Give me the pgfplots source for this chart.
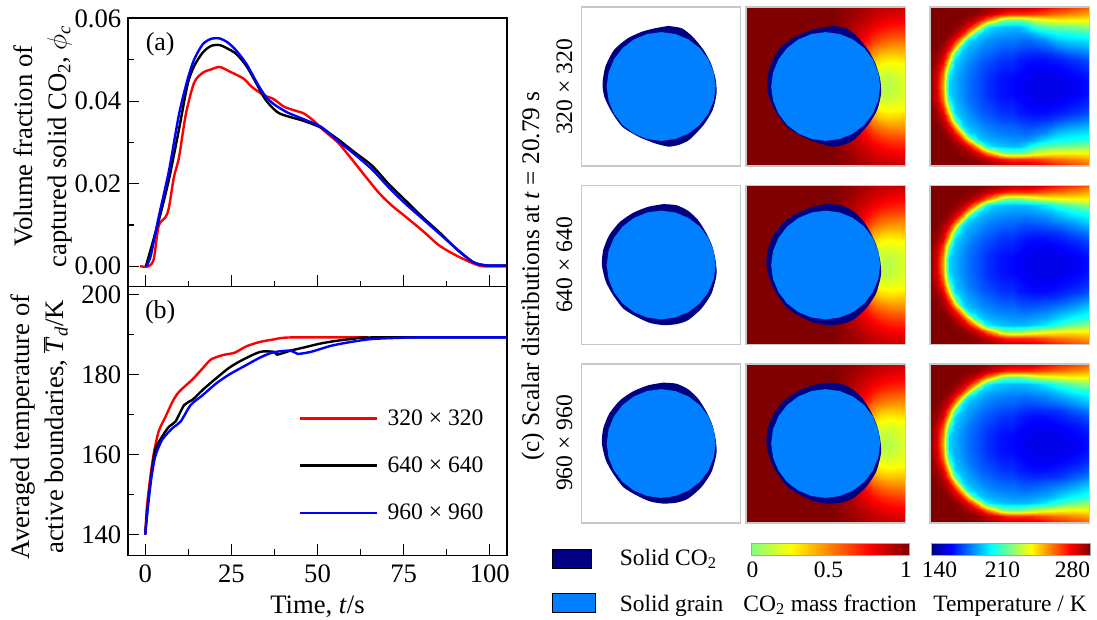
\documentclass[border=0pt]{standalone}
\usepackage{fontspec}
\usepackage{pgfplots}
\usepackage{pgfplotstable}
\pgfplotsset{compat=1.18}
\setmainfont{Liberation Serif}
\definecolor{solidco}{RGB}{0,0,130}
\definecolor{grainblue}{RGB}{0,128,255}
\definecolor{framegray}{RGB}{200,200,200}
\pgfplotsset{
 colormap={co2map}{rgb255(0cm)=(128,255,128); rgb255(2cm)=(255,255,0); rgb255(4cm)=(255,128,0); rgb255(6cm)=(255,0,0); rgb255(8cm)=(128,0,0)},
 colormap={tmap}{rgb255(0cm)=(0,0,128); rgb255(1cm)=(0,0,255); rgb255(3cm)=(0,255,255); rgb255(5cm)=(255,255,0); rgb255(7cm)=(255,0,0); rgb255(8cm)=(128,0,0)},
 lineplot/.style={scale only axis,width=284.25pt,xmin=-5,xmax=105,
   tick align=inside,xtick pos=bottom,ytick pos=left,minor tick num=1,
   axis line style={line width=1pt},every tick/.style={black,line width=0.8pt},
   major tick length=8.5pt,minor tick length=4.5pt,
   xtick={0,25,50,75,100},
   /pgf/number format/assume math mode=true,
   tick label style={font=\fontsize{20}{24}\selectfont},
   xticklabel style={yshift=-3.75pt},
   label style={font=\fontsize{20}{25.5}\selectfont}},
 curve/.style={#1,line width=1.8pt,smooth,tension=0.45},
 panelaxis/.style={scale only axis,width=119.5pt,height=119.25pt,xmin=0,xmax=1,ymin=0,ymax=1,
   ticks=none,axis line style={draw=framegray,line width=0.8pt},axis on top},
 field/.style={surf,shader=interp,mesh/cols=#1,point meta=\thisrow{z}},
}
% Volume fraction of captured solid CO2
\pgfplotstableread{
t v
-1.5 0
1.0 0
2.5 .0018
3.9 .0098
5.9 .0119
6.9 .0143
8.3 .0215
9.8 .0264
11.8 .0369
14.2 .0445
16.7 .0469
19.1 .0477
21.6 .0483
24.5 .0472
28.5 .0455
30.9 .0435
34.3 .0415
37.3 .0405
40.2 .0387
43.2 .0378
46.1 .0370
49.1 .0351
52.0 .0328
55.9 .0300
59.9 .0260
63.8 .0219
67.7 .0179
71.6 .0147
75.6 .0120
80.5 .0086
85.4 .0050
90.3 .0026
95.2 .0007
98.1 0
104.8 0
}\phired
\pgfplotstableread{
t v
0.2 0
3.9 .0110
6.9 .0211
9.8 .0332
12.3 .0441
14.2 .0485
16.7 .0518
19.1 .0534
21.6 .0536
24.0 .0527
26.5 .0514
29.4 .0485
32.4 .0441
34.8 .0405
37.3 .0381
39.3 .0369
43.2 .0359
46.1 .0352
51.0 .0336
55.9 .0308
60.8 .0276
65.8 .0244
70.7 .0199
75.6 .0159
80.5 .0119
85.4 .0082
90.3 .0042
95.2 .0010
99.1 .0002
104.8 .0002
}\phiblack
\pgfplotstableread{
t v
0.2 0
1.5 .0022
3.9 .0119
6.9 .0232
9.8 .0368
12.3 .0453
14.2 .0501
16.7 .0538
19.1 .0551
21.6 .0552
24.0 .0542
26.5 .0522
29.4 .0490
32.4 .0445
34.8 .0413
37.3 .0393
41.2 .0373
46.1 .0356
51.0 .0338
55.9 .0304
60.8 .0271
65.8 .0235
70.7 .0191
75.6 .0151
80.5 .0115
85.4 .0079
90.3 .0043
95.2 .0010
99.1 .0002
104.8 .0002
}\phiblue
% Averaged temperature
\pgfplotstableread{
t T
0 140
0.5 147
1.5 154.5
2.5 160.4
3.9 165.8
5.9 169.5
7.9 173.2
9.8 175.7
13.7 178.8
16.7 181.6
19.1 183.8
22.6 184.9
26.0 185.5
29.4 187.1
33.4 188.2
37.3 188.8
42.2 189.3
64.8 189.3
}\Tred
\pgfplotstableread{
t T
0 140
0.7 147
1.7 154.5
2.9 161.2
4.9 164.5
6.9 167
8.8 168.3
11.3 172.4
13.7 173.7
16.7 176.2
20.6 179.1
24.5 181.8
28.5 183.8
33.4 185.7
37.3 185.7
38.3 185
42.2 186
46.1 186.8
51.0 187.8
55.9 188.5
60.8 189
65.8 189.3
104.8 189.3
}\Tblack
\pgfplotstableread{
t T
0 140
0.7 146.2
1.7 153.7
2.9 159.5
4.9 163.7
7.9 166.6
10.3 168.3
13.2 172.4
16.7 174.9
20.6 177.8
24.5 180.1
28.5 182
33.4 184.3
37.3 185.6
42.2 186
44.2 185.2
48.1 185.7
53.9 187.2
59.9 188.2
65.8 188.9
73.6 189.2
78.5 189.3
104.8 189.3
}\Tblue
% Outlines in panel fractions
\pgfplotstableread{
x y
.842 .5
.830 .589
.796 .671
.742 .742
.671 .796
.589 .830
.5 .842
.411 .830
.329 .796
.258 .742
.204 .671
.170 .589
.158 .5
.170 .411
.204 .329
.258 .258
.329 .204
.411 .170
.5 .158
.589 .170
.671 .204
.742 .258
.796 .329
.830 .411
.842 .5
}\grain
\pgfplotstableread{
x y
.544 .881
.630 .866
.698 .813
.766 .730
.812 .646
.841 .551
.848 .457
.823 .352
.766 .258
.676 .164
.608 .132
.544 .122
.460 .143
.358 .184
.256 .247
.188 .342
.143 .436
.132 .520
.150 .625
.204 .730
.290 .803
.381 .845
.460 .866
.544 .881
}\crustA
\pgfplotstableread{
x y
.513 .883
.596 .876
.669 .841
.732 .782
.785 .698
.822 .614
.843 .520
.847 .436
.816 .321
.753 .226
.669 .153
.596 .128
.513 .122
.429 .136
.345 .174
.262 .226
.199 .310
.153 .394
.128 .499
.136 .593
.174 .688
.241 .771
.324 .828
.418 .866
.513 .883
}\crustB
% CO2 mass fraction: 21 columns, 11 rows, upper half, top row first
\pgfplotstableread[row sep=crcr]{
z\\
1\\1\\1\\1\\1\\1\\1\\1\\1\\1\\1\\1\\.98\\.96\\.94\\.92\\.90\\.88\\.87\\.86\\.85\\
1\\1\\1\\1\\1\\1\\1\\1\\1\\1\\1\\1\\.97\\.95\\.92\\.89\\.86\\.84\\.82\\.81\\.80\\
1\\1\\1\\1\\1\\1\\1\\1\\1\\1\\1\\1\\.96\\.93\\.89\\.85\\.81\\.78\\.75\\.74\\.74\\
1\\1\\1\\1\\1\\1\\1\\1\\1\\1\\1\\.98\\.95\\.90\\.85\\.80\\.74\\.70\\.67\\.66\\.65\\
1\\1\\1\\1\\1\\1\\1\\1\\1\\1\\1\\.98\\.95\\.90\\.82\\.74\\.66\\.60\\.57\\.56\\.55\\
1\\1\\1\\1\\1\\1\\1\\1\\1\\1\\1\\.98\\.95\\.90\\.80\\.66\\.55\\.50\\.46\\.45\\.45\\
1\\1\\1\\1\\1\\1\\1\\1\\1\\1\\1\\.98\\.95\\.90\\.75\\.58\\.44\\.36\\.34\\.35\\.36\\
1\\1\\1\\1\\1\\1\\1\\1\\1\\1\\1\\.98\\.95\\.90\\.70\\.50\\.35\\.26\\.24\\.25\\.26\\
1\\1\\1\\1\\1\\1\\1\\1\\1\\1\\1\\.98\\.95\\.85\\.65\\.45\\.25\\.18\\.17\\.19\\.21\\
1\\1\\1\\1\\1\\1\\1\\1\\1\\1\\1\\.98\\.95\\.85\\.60\\.35\\.20\\.13\\.12\\.16\\.19\\
1\\1\\1\\1\\1\\1\\1\\1\\1\\1\\1\\.98\\.95\\.85\\.60\\.30\\.18\\.12\\.10\\.14\\.18\\
}\cotab
% Temperature, K: 26 columns, 13 rows, upper half, top row first
\pgfplotstableread[row sep=crcr]{
z\\
280\\280\\280\\280\\280\\280\\280\\280\\279\\278\\276\\275\\274\\272\\272\\272\\270\\268\\265\\262\\260\\258\\256\\254\\252\\250\\
280\\280\\280\\280\\280\\280\\279\\278\\275\\271\\267\\262\\258\\256\\256\\256\\255\\253\\251\\249\\247\\246\\244\\243\\241\\240\\
280\\280\\280\\280\\280\\278\\275\\270\\260\\246\\232\\217\\209\\207\\208\\212\\218\\222\\225\\227\\228\\228\\228\\228\\228\\228\\
280\\280\\280\\280\\278\\273\\264\\245\\219\\193\\187\\185\\184\\183\\183\\188\\195\\200\\204\\205\\206\\207\\208\\209\\210\\212\\
280\\280\\280\\278\\272\\260\\235\\199\\186\\183\\181\\180\\179\\178\\178\\178\\180\\184\\188\\191\\193\\194\\195\\196\\197\\198\\
280\\280\\279\\273\\261\\231\\190\\184\\181\\178\\176\\175\\174\\174\\173\\172\\173\\175\\177\\181\\184\\186\\187\\188\\189\\190\\
280\\280\\275\\265\\237\\191\\183\\180\\177\\175\\173\\172\\171\\171\\169\\168\\168\\169\\170\\172\\175\\177\\179\\180\\181\\183\\
280\\278\\272\\250\\205\\185\\180\\177\\174\\172\\170\\168\\167\\167\\165\\164\\163\\163\\164\\165\\167\\169\\171\\172\\174\\175\\
280\\276\\266\\231\\188\\182\\178\\174\\171\\169\\167\\165\\164\\164\\161\\160\\159\\159\\159\\160\\161\\162\\164\\165\\167\\169\\
280\\273\\256\\210\\184\\180\\175\\172\\169\\167\\165\\163\\162\\162\\160\\158\\157\\157\\157\\157\\158\\159\\160\\161\\163\\165\\
279\\271\\248\\195\\183\\178\\174\\171\\168\\165\\163\\161\\160\\160\\158\\157\\156\\155\\155\\155\\156\\157\\158\\159\\160\\162\\
278\\270\\243\\188\\182\\177\\173\\170\\167\\164\\162\\160\\159\\158\\157\\156\\155\\154\\154\\154\\155\\155\\156\\157\\158\\160\\
278\\269\\240\\187\\182\\177\\173\\170\\167\\164\\162\\160\\159\\158\\157\\155\\154\\154\\154\\154\\154\\155\\155\\156\\158\\160\\
}\tempA
\pgfplotstableread[row sep=crcr]{
z\\
280\\280\\280\\280\\280\\280\\280\\280\\279\\278\\276\\275\\274\\272\\272\\272\\270\\268\\265\\262\\260\\258\\256\\254\\252\\250\\
280\\280\\280\\280\\280\\280\\279\\278\\275\\271\\267\\262\\258\\256\\256\\256\\255\\253\\251\\249\\247\\246\\244\\243\\241\\240\\
280\\280\\280\\280\\280\\278\\275\\270\\260\\246\\232\\217\\209\\207\\208\\212\\216\\220\\222\\224\\226\\227\\228\\228\\228\\228\\
280\\280\\280\\280\\278\\273\\264\\245\\219\\193\\187\\185\\184\\183\\183\\183\\185\\187\\190\\194\\198\\202\\205\\208\\210\\212\\
280\\280\\280\\278\\272\\260\\235\\199\\186\\183\\181\\180\\179\\178\\178\\178\\179\\180\\181\\183\\186\\189\\192\\194\\196\\198\\
280\\280\\279\\273\\261\\231\\190\\184\\181\\178\\176\\175\\174\\174\\173\\172\\173\\174\\175\\177\\179\\181\\183\\185\\188\\190\\
280\\280\\275\\265\\237\\191\\183\\180\\177\\175\\173\\172\\171\\171\\169\\168\\168\\169\\170\\171\\172\\174\\176\\178\\181\\183\\
280\\278\\272\\250\\205\\185\\180\\177\\174\\172\\170\\168\\167\\167\\165\\164\\163\\163\\164\\164\\165\\167\\169\\171\\173\\175\\
280\\276\\266\\231\\188\\182\\178\\174\\171\\169\\167\\165\\164\\164\\161\\160\\159\\159\\159\\160\\161\\162\\164\\165\\167\\169\\
280\\273\\256\\210\\184\\180\\175\\172\\169\\167\\165\\163\\162\\162\\160\\158\\157\\157\\157\\157\\158\\159\\160\\161\\163\\165\\
279\\271\\248\\195\\183\\178\\174\\171\\168\\165\\163\\161\\160\\160\\158\\157\\156\\155\\155\\155\\156\\157\\158\\159\\160\\162\\
278\\270\\243\\188\\182\\177\\173\\170\\167\\164\\162\\160\\159\\158\\157\\156\\155\\154\\154\\154\\155\\155\\156\\157\\158\\160\\
278\\269\\240\\187\\182\\177\\173\\170\\167\\164\\162\\160\\159\\158\\157\\155\\154\\154\\154\\154\\154\\155\\155\\156\\158\\160\\
}\tempB
\newcommand{\solidpanel}[2]{% y, crust
 \begin{axis}[panelaxis,at={(581.5*0.75pt,-#1*0.75pt)},anchor=north west]
 \addplot[fill=solidco,draw=none,smooth,tension=0.4] table {#2};
 \addplot[fill=grainblue,draw=none] table {\grain};
 \end{axis}}
\newcommand{\copanel}[2]{%
 \begin{axis}[panelaxis,at={(746*0.75pt,-#1*0.75pt)},anchor=north west,colormap name=co2map,point meta min=0,point meta max=1]
 \addplot[field=21] table[x index=0,y index=0,x expr={mod(\coordindex,21)/20},y expr={.5+(10-floor(\coordindex/21))/20}] {\cotab};
 \addplot[field=21] table[x index=0,y index=0,x expr={mod(\coordindex,21)/20},y expr={.5-(10-floor(\coordindex/21))/20}] {\cotab};
 \addplot[fill=solidco,draw=none,smooth,tension=0.4] table {#2};
 \addplot[fill=grainblue,draw=none] table {\grain};
 \end{axis}}
\newcommand{\tpanel}[2]{%
 \begin{axis}[panelaxis,at={(930*0.75pt,-#1*0.75pt)},anchor=north west,colormap name=tmap,point meta min=140,point meta max=280]
 \addplot[field=26] table[x index=0,y index=0,x expr={mod(\coordindex,26)/25},y expr={.5+(12-floor(\coordindex/26))/24}] {#2};
 \addplot[field=26] table[x index=0,y index=0,x expr={mod(\coordindex,26)/25},y expr={.5-(12-floor(\coordindex/26))/24}] {#2};
 \end{axis}}
\begin{document}
\begin{tikzpicture}[x=0.75pt,y=-0.75pt]
\path[use as bounding box] (0,0) rectangle (1097,619);
% (a)
\begin{axis}[lineplot,at={(128*0.75pt,-286.5*0.75pt)},anchor=south west,height=201.5pt,
  ymin=-.0049,ymax=.0602,ytick={0,.02,.04,.06},xticklabels={},scaled y ticks=false,
  yticklabel style={xshift=-1.5pt,/pgf/number format/fixed,/pgf/number format/fixed zerofill,/pgf/number format/precision=2},
  ylabel={Volume fraction of\\captured solid CO\textsubscript{2}, $\phi$\textsubscript{\textit{c}}},
  ylabel style={at={(axis description cs:-0.225,0.522)},anchor=center,align=center,rotate=0}]
\addplot[curve=red] table[x=t,y=v] {\phired};
\addplot[curve=black] table[x=t,y=v] {\phiblack};
\addplot[curve=blue] table[x=t,y=v] {\phiblue};
\node[font=\fontsize{19.5}{24}\selectfont,anchor=center] at (axis description cs:0.085,0.9) {(a)};
\end{axis}
% (b)
\begin{axis}[lineplot,at={(128*0.75pt,-555.3*0.75pt)},anchor=south west,height=201.5pt,
  ymin=134.83,ymax=202,ytick={140,160,180,200},
  yticklabel style={xshift=-1.5pt},
  xlabel={Time, \textit{t}/s},
  xlabel style={at={(axis description cs:0.5,-0.192)},anchor=center},
  ylabel={Averaged temperature of\\active boundaries, $\overline{\mbox{\textit{T}}}$\textsubscript{\textit{d}}/K},
  ylabel style={at={(axis description cs:-0.234,0.478)},anchor=center,align=center},
  legend cell align=left,
  legend style={at={(0.45,0.553)},anchor=north west,draw=none,fill=none,inner sep=0pt,
    row sep=18.1pt,font=\fontsize{17.7}{20}\selectfont}]
\addplot[curve=red,forget plot] table[x=t,y=T] {\Tred};
\addplot[curve=black,forget plot] table[x=t,y=T] {\Tblack};
\addplot[curve=blue,forget plot] table[x=t,y=T] {\Tblue};
\addlegendimage{legend image code/.code={\draw[red,line width=1.8pt] (0pt,0pt) -- (57.5pt,0pt); \path (63.5pt,0pt);}}
\addlegendentry{320 × 320}
\addlegendimage{legend image code/.code={\draw[black,line width=1.8pt] (0pt,0pt) -- (57.5pt,0pt); \path (63.5pt,0pt);}}
\addlegendentry{640 × 640}
\addlegendimage{legend image code/.code={\draw[blue,line width=1.8pt] (0pt,0pt) -- (57.5pt,0pt); \path (63.5pt,0pt);}}
\addlegendentry{960 × 960}
\node[font=\fontsize{19.5}{24}\selectfont,anchor=center] at (axis description cs:0.085,0.905) {(b)};
\end{axis}
% panels
\solidpanel{7}{\crustA}\copanel{7}{\crustA}\tpanel{7}{\tempA}
\solidpanel{185.5}{\crustB}\copanel{185.5}{\crustB}\tpanel{185.5}{\tempB}
\solidpanel{364}{\crustB}\copanel{364}{\crustB}\tpanel{364}{\tempB}
% colour bars
\begin{axis}[scale only axis,at={(751*0.75pt,-543*0.75pt)},anchor=north west,width=118.5pt,height=9pt,xmin=0,xmax=1,ymin=0,ymax=1,
  ticks=none,axis line style={draw=gray!70,line width=0.6pt},axis on top,colormap name=co2map,point meta min=0,point meta max=1]
\addplot[surf,shader=interp,mesh/cols=5,point meta=x] coordinates {(0,0)(.25,0)(.5,0)(.75,0)(1,0)(0,1)(.25,1)(.5,1)(.75,1)(1,1)};
\end{axis}
\begin{axis}[scale only axis,at={(931*0.75pt,-543*0.75pt)},anchor=north west,width=119.5pt,height=9pt,xmin=140,xmax=280,ymin=0,ymax=1,
  ticks=none,axis line style={draw=gray!70,line width=0.6pt},axis on top,colormap name=tmap,point meta min=140,point meta max=280]
\addplot[surf,shader=interp,mesh/cols=6,point meta=x] coordinates {(140,0)(157.5,0)(192.5,0)(227.5,0)(262.5,0)(280,0)(140,1)(157.5,1)(192.5,1)(227.5,1)(262.5,1)(280,1)};
\end{axis}
% texts
\node[rotate=90,font=\fontsize{19}{23}\selectfont] at (533,276) {(c) Scalar distributions at \textit{t} = 20.79 s};
\begin{scope}[every node/.style={rotate=90,font=\fontsize{17.7}{21}\selectfont}]
\node at (564.5,87) {320 × 320};
\node at (564.5,265) {640 × 640};
\node at (564.5,443) {960 × 960};
\end{scope}
\draw[fill=solidco,draw=black,line width=0.6pt] (552.5,549) rectangle (591,568);
\draw[fill=grainblue,draw=black,line width=0.6pt] (552.5,593.5) rectangle (595,612);
\begin{scope}[every node/.style={font=\fontsize{17.6}{21}\selectfont,inner sep=0pt}]
\node[anchor=base west] at (619.5,565) {Solid CO\textsubscript{2}};
\node[anchor=base west] at (619.5,611) {Solid grain};
\node[anchor=base] at (830,611) {CO\textsubscript{2} mass fraction};
\node[anchor=base] at (1010,611) {Temperature / K};
\node[anchor=base] at (752.5,577) {0};
\node[anchor=base] at (828.5,577) {0.5};
\node[anchor=base] at (906,577) {1};
\node[anchor=base] at (939.5,577) {140};
\node[anchor=base] at (1002.5,577) {210};
\node[anchor=base] at (1072.5,577) {280};
\end{scope}
\end{tikzpicture}
\end{document}
